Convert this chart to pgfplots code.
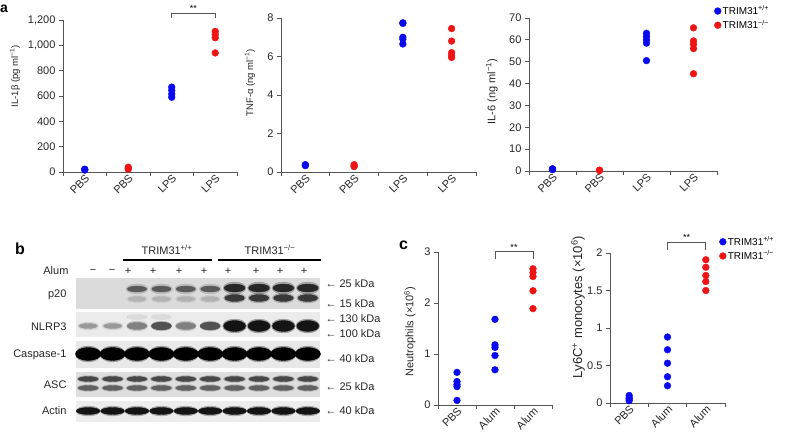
\documentclass[border=0pt]{standalone}
\usepackage{pgfplots}
\pgfplotsset{compat=1.18}
\usepackage{fontspec}
\setmainfont{Liberation Sans}

\definecolor{wt}{RGB}{10,10,240}
\definecolor{ko}{RGB}{238,20,20}
\definecolor{axgray}{RGB}{85,85,85}

\pgfplotsset{
  dotplot/.style={
    scale only axis, clip=false, anchor=south west,
    axis x line*=bottom, axis y line*=left,
    axis line style={axgray, line width=0.8pt},
    tick style={axgray, line width=0.8pt},
    tick align=outside, major tick length=4pt,
    ymin=0,
    ticklabel style={font=\fontsize{11}{12}\selectfont, text=black!85},
    /pgf/number format/assume math mode=true,
    ylabel style={anchor=center, text=black!85},
    xticklabels={,,,,},
    extra x tick style={major tick length=0pt,
      xticklabel style={rotate=45, anchor=north east, inner sep=1pt}},
    legend style={draw=none, fill=none, font=\fontsize{10}{11}\selectfont,
      inner sep=0pt, row sep=1pt, nodes={inner sep=1.5pt}},
    legend cell align=left,
    legend image code/.code={\draw[#1] plot coordinates {(2pt,0pt)};},
  },
  ylab/.style n args={3}{ylabel style={at={(rel axis cs:#1,#2)},
    font=\fontsize{#3}{#3}\selectfont}},
  wtd/.style={only marks, mark=*, mark size=3.4pt, color=wt},
  kod/.style={only marks, mark=*, mark size=3.4pt, color=ko},
  band/.style n args={3}{only marks, mark=*, mark size=#1, color=black!#3,
    mark options={xscale=#2}},
  halo/.style={opacity=0.35},
}

\begin{document}
\begin{tikzpicture}
\useasboundingbox (0,0) rectangle (788pt,438pt);

% ---------- panel a ----------
\begin{axis}[dotplot, at={(63pt,266pt)}, width=174pt, height=152pt,
  xmin=0, xmax=4, xtick={0,...,4}, ymax=1200, ytick={0,200,...,1200},
  /pgf/number format/1000 sep={,},
  extra x ticks={0.5,1.5,2.5,3.5}, extra x tick labels={PBS,PBS,LPS,LPS},
  ylab={-0.276}{0.63}{9.5}, ylabel={IL-1β (pg ml\textsuperscript{−1})}]
\addplot[wtd] coordinates {(0.5,15) (0.5,20) (0.5,22)
  (2.5,670) (2.5,645) (2.5,615) (2.5,590)};
\addplot[kod] coordinates {(1.5,22) (1.5,30) (1.5,38)
  (3.5,1110) (3.5,1085) (3.5,1060) (3.5,940)};
\draw[axgray, line width=0.8pt] (axis cs:2.5,1216) |- (axis cs:3.5,1255) -- (axis cs:3.5,1216);
\node[above, inner sep=1pt, font=\fontsize{9}{10}\selectfont] at (axis cs:3,1255) {**};
\end{axis}

\begin{axis}[dotplot, at={(281pt,266pt)}, width=195pt, height=154pt,
  xmin=0, xmax=4, xtick={0,...,4}, ymax=8, ytick={0,2,...,8},
  extra x ticks={0.5,1.5,2.5,3.5}, extra x tick labels={PBS,PBS,LPS,LPS},
  ylab={-0.159}{0.58}{9.5}, ylabel={TNF-α (ng ml\textsuperscript{−1})}]
\addplot[wtd] coordinates {(0.5,0.33) (0.5,0.36) (0.5,0.38)
  (2.5,7.75) (2.5,7.72) (2.5,7.0) (2.5,6.9) (2.5,6.65)};
\addplot[kod] coordinates {(1.5,0.28) (1.5,0.33) (1.5,0.38)
  (3.5,7.45) (3.5,6.8) (3.5,6.2) (3.5,6.05) (3.5,5.95)};
\end{axis}

\begin{axis}[dotplot, at={(529pt,267pt)}, width=188pt, height=153pt,
  xmin=0, xmax=4, xtick={0,...,4}, ymax=70, ytick={0,10,...,70},
  extra x ticks={0.5,1.5,2.5,3.5}, extra x tick labels={PBS,PBS,LPS,LPS},
  ylab={-0.197}{0.52}{11}, ylabel={IL-6 (ng ml\textsuperscript{−1})},
  legend style={at={(0.985,1.09)}, anchor=north west}]
\addplot[wtd] coordinates {(0.5,0.6) (0.5,0.9) (0.5,1.0)
  (2.5,63) (2.5,61.5) (2.5,60) (2.5,58.5) (2.5,50.5)};
\addplot[kod] coordinates {(1.5,0.2) (1.5,0.4)
  (3.5,65.5) (3.5,59.5) (3.5,58) (3.5,56) (3.5,44.5)};
\legend{TRIM31\textsuperscript{+/+}, TRIM31\textsuperscript{−/−}}
\end{axis}

% ---------- panel c ----------
\begin{axis}[dotplot, at={(438pt,33pt)}, width=114pt, height=153pt,
  xmin=0, xmax=3, xtick={0,...,3}, ymax=3, ytick={0,1,2,3},
  extra x ticks={0.5,1.5,2.5}, extra x tick labels={PBS,Alum,Alum},
  ylab={-0.246}{0.48}{11}, ylabel={Neutrophils (×10\textsuperscript{6})}]
\addplot[wtd] coordinates {(0.5,0.64) (0.5,0.46) (0.5,0.40) (0.5,0.36) (0.5,0.09)
  (1.5,1.68) (1.5,1.18) (1.5,1.13) (1.5,0.97) (1.5,0.69)};
\addplot[kod] coordinates {(2.5,2.67) (2.5,2.6) (2.5,2.52) (2.5,2.24) (2.5,1.89)};
\draw[axgray, line width=0.8pt] (axis cs:1.5,2.86) |- (axis cs:2.5,3.01) -- (axis cs:2.5,2.86);
\node[above, inner sep=1pt, font=\fontsize{9}{10}\selectfont] at (axis cs:2,3.01) {**};
\end{axis}

\begin{axis}[dotplot, at={(610pt,35pt)}, width=115pt, height=150pt,
  xmin=0, xmax=3, xtick={0,...,3}, ymax=2, ytick={0,0.5,1,1.5,2},
  extra x ticks={0.5,1.5,2.5}, extra x tick labels={PBS,Alum,Alum},
  ylab={-0.278}{0.64}{13}, ylabel={Ly6C\textsuperscript{+} monocytes (×10\textsuperscript{6})},
  legend style={at={(0.95,1.12)}, anchor=north west}]
\addplot[wtd] coordinates {(0.5,0.1) (0.5,0.07) (0.5,0.05) (0.5,0.03)
  (1.5,0.88) (1.5,0.71) (1.5,0.53) (1.5,0.35) (1.5,0.23)};
\addplot[kod] coordinates {(2.5,1.91) (2.5,1.81) (2.5,1.70) (2.5,1.62) (2.5,1.50)};
\draw[axgray, line width=0.8pt] (axis cs:1.5,2.035) |- (axis cs:2.5,2.146) -- (axis cs:2.5,2.035);
\node[above, inner sep=1pt, font=\fontsize{9}{10}\selectfont] at (axis cs:2,2.146) {**};
\legend{TRIM31\textsuperscript{+/+}, TRIM31\textsuperscript{−/−}}
\end{axis}

% ---------- panel b (blot) ----------
\begin{axis}[at={(76pt,16pt)}, anchor=south west, scale only axis,
  width=244pt, height=144pt, xmin=0.5, xmax=10.5, ymin=278, ymax=422,
  y dir=reverse, hide axis, clip=false]
% strips
\addplot[fill=black!14, draw=none] coordinates {(0.5,278) (10.5,278) (10.5,309) (0.5,309)};
\addplot[fill=black!8, draw=none] coordinates {(0.5,312) (10.5,312) (10.5,337) (0.5,337)};
\addplot[fill=black!9, draw=none] coordinates {(0.5,341) (10.5,341) (10.5,368) (0.5,368)};
\addplot[fill=black!13, draw=none] coordinates {(0.5,372) (10.5,372) (10.5,397) (0.5,397)};
\addplot[fill=black!7, draw=none] coordinates {(0.5,401) (10.5,401) (10.5,422) (0.5,422)};
% p20
\addplot[band={5pt}{2.2}{45}, halo] coordinates {(3,289) (4,289) (5,289) (6,289)};
\addplot[band={3pt}{3.2}{65}] coordinates {(3,289) (4,289) (5,289) (6,289)};
\addplot[band={6pt}{1.9}{70}, halo] coordinates {(7,288) (8,288) (9,288) (10,288)};
\addplot[band={4pt}{2.6}{85}] coordinates {(7,288) (8,288) (9,288) (10,288)};
\addplot[band={4pt}{2.6}{25}, halo] coordinates {(3,299) (4,299) (5,299) (6,299)};
\addplot[band={2.5pt}{3.6}{30}] coordinates {(3,299) (4,299) (5,299) (6,299)};
\addplot[band={5pt}{2.2}{60}, halo] coordinates {(7,298) (8,298) (9,298) (10,298)};
\addplot[band={3.5pt}{2.8}{78}] coordinates {(7,298) (8,298) (9,298) (10,298)};
% NLRP3
\addplot[band={2.5pt}{4}{25}, halo] coordinates {(3,317) (4,317)};
\addplot[band={4pt}{2.6}{30}, halo] coordinates {(1,326) (2,326)};
\addplot[band={2.5pt}{3.6}{40}] coordinates {(1,326) (2,326)};
\addplot[band={5pt}{2.1}{45}, halo] coordinates {(3,326) (4,326) (5,326) (6,326)};
\addplot[band={3.5pt}{2.8}{50}] coordinates {(3,326) (5,326)};
\addplot[band={4pt}{2.5}{68}] coordinates {(4,326) (6,326)};
\addplot[band={7pt}{1.7}{80}, halo] coordinates {(7,326) (8,326) (9,326) (10,326)};
\addplot[band={5.5pt}{2}{92}] coordinates {(7,326) (8,326) (9,326) (10,326)};
% Caspase-1
\addplot[band={8pt}{1.6}{80}, halo] coordinates {(1,354) (2,354) (3,354) (4,354) (5,354)
  (6,354) (7,354) (8,354) (9,354) (10,354)};
\addplot[band={6.5pt}{1.95}{100}] coordinates {(1,354) (2,354) (3,354) (4,354) (5,354)
  (6,354) (7,354) (8,354) (9,354) (10,354)};
% ASC
\addplot[band={3.5pt}{3.2}{50}, halo] coordinates {(1,379) (2,379) (3,379) (4,379) (5,379)
  (6,379) (7,379) (8,379) (9,379) (10,379)};
\addplot[band={2.5pt}{4}{72}] coordinates {(1,379) (2,379) (3,379) (4,379) (5,379)
  (6,379) (7,379) (8,379) (9,379) (10,379)};
\addplot[band={3.5pt}{3.2}{45}, halo] coordinates {(1,388) (2,388) (3,388) (4,388) (5,388)
  (6,388) (7,388) (8,388) (9,388) (10,388)};
\addplot[band={2.5pt}{4}{62}] coordinates {(1,388) (2,388) (3,388) (4,388) (5,388)
  (6,388) (7,388) (8,388) (9,388) (10,388)};
% Actin
\addplot[band={5pt}{2.4}{70}, halo] coordinates {(1,411) (2,411) (3,411) (4,411) (5,411)
  (6,411) (7,411) (8,411) (9,411) (10,411)};
\addplot[band={3.5pt}{3.4}{92}] coordinates {(1,411) (2,411) (3,411) (4,411) (5,411)
  (6,411) (7,411) (8,411) (9,411) (10,411)};
\end{axis}

\begin{scope}[every node/.style={font=\fontsize{11}{12}\selectfont, text=black!85}]
\node at (167pt,188pt) {TRIM31\textsuperscript{+/+}};
\node at (270pt,188pt) {TRIM31\textsuperscript{−/−}};
\draw[line width=2pt] (123pt,178pt) -- (212pt,178pt);
\draw[line width=2pt] (218pt,178pt) -- (321pt,178pt);
\node[anchor=east] at (72pt,167pt) {Alum};
\foreach \x in {93,112} \node at (\x pt,167pt) {−};
\foreach \x in {128,153,179,204,228,256,280,304} \node at (\x pt,167pt) {+};
\node[anchor=east] at (70pt,143pt) {p20};
\node[anchor=east] at (70pt,111pt) {NLRP3};
\node[anchor=east] at (70pt,83pt) {Caspase-1};
\node[anchor=east] at (70pt,53pt) {ASC};
\node[anchor=east] at (70pt,27pt) {Actin};
\node[anchor=west] at (322pt,154pt) {← 25 kDa};
\node[anchor=west] at (322pt,134pt) {← 15 kDa};
\node[anchor=west] at (322pt,119pt) {← 130 kDa};
\node[anchor=west] at (322pt,104pt) {← 100 kDa};
\node[anchor=west] at (322pt,79pt) {← 40 kDa};
\node[anchor=west] at (322pt,51pt) {← 25 kDa};
\node[anchor=west] at (322pt,27pt) {← 40 kDa};
\end{scope}

% panel letters
\node[anchor=base west, inner sep=0pt, font=\fontsize{14}{16}\bfseries] at (0pt,425pt) {a};
\node[anchor=base west, inner sep=0pt, font=\fontsize{16}{18}\bfseries] at (15pt,183pt) {b};
\node[anchor=base west, inner sep=0pt, font=\fontsize{16}{18}\bfseries] at (399pt,188pt) {c};
\end{tikzpicture}
\end{document}
